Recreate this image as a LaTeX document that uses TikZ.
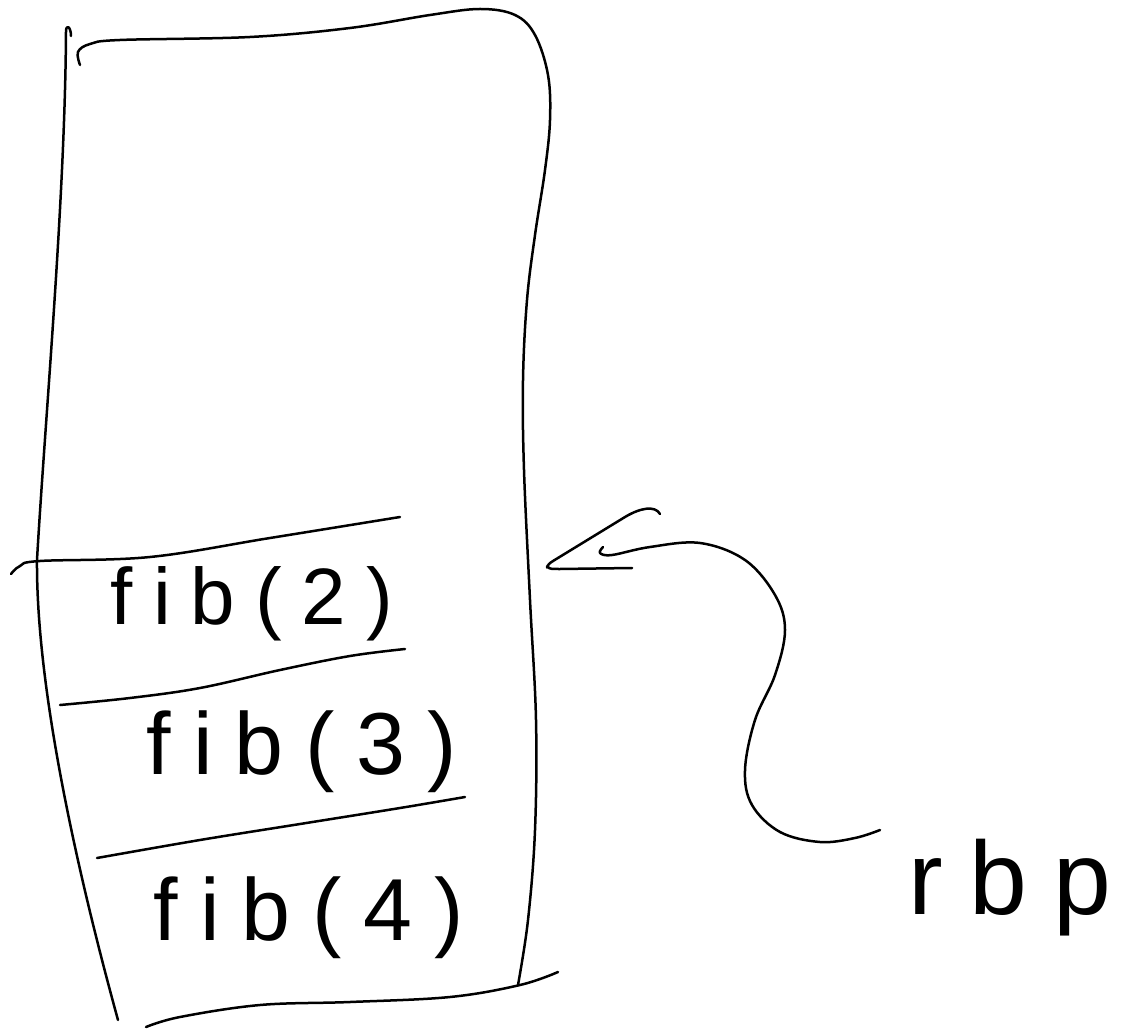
\documentclass[tikz,border=0pt]{standalone}
\usepackage{fontspec}
\newfontfamily\handfont[LetterSpace=25]{Liberation Sans}
\begin{document}
\begin{tikzpicture}[x=0.5pt,y=-0.5pt,
  pen/.style={line width=1.25pt, line cap=round, line join=round},
  lbl/.style={inner sep=0pt, font=\handfont\fontsize{44}{46}\selectfont},
  lblsmall/.style={inner sep=0pt, font=\handfont\fontsize{40}{42}\selectfont},
  lblbig/.style={inner sep=0pt, font=\handfont\fontsize{52}{54}\selectfont}]
\useasboundingbox (0,0) rectangle (1127,1036);

% left wall
\draw[pen] (71,36) .. controls (71,27) and (66,23) .. (66,32)
  .. controls (65,200) and (45,420) .. (37,560)
  .. controls (36,700) and (85,900) .. (118,1020);

% top and right wall
\draw[pen] plot[smooth, tension=0.6] coordinates {
  (80,65) (78,52) (90,44) (120,40) (250,37) (350,28) (430,15) (480,9)
  (515,15) (535,35) (548,75) (550,120) (545,170) (535,235) (527,300)
  (523,380) (524,470) (530,600) (536,720) (535,830) (528,920) (518,985)};

% frame separators
\draw[pen] plot[smooth, tension=0.6] coordinates {
  (11,574) (20,566) (40,561) (150,557) (270,538) (400,517)};
\draw[pen] plot[smooth, tension=0.6] coordinates {
  (60,705) (130,698) (200,688) (280,670) (350,656) (405,649)};
\draw[pen] plot[smooth, tension=0.6] coordinates {
  (97,858) (200,840) (300,824) (400,808) (465,797)};
\draw[pen] plot[smooth, tension=0.6] coordinates {
  (146,1027) (180,1017) (260,1005) (350,1002) (450,997) (520,985) (558,972)};

% frame labels
\node[lblsmall] (f2) at (252,604) {fib(2)};
\node[lbl] (f3) at (302,752) {fib(3)};
\node[lbl] (f4) at (309,918) {fib(4)};
\node[lblbig] (rbp) at (1010,888) {rbp};

% rbp pointer
\coordinate (tail) at (880,830);
\coordinate (tip) at (548,567);
\draw[pen] (660,514) .. controls (655,505) and (640,508) .. (625,517)
  -- (553,561) .. controls (545,566) and (547,569) .. (tip)
  .. controls (549,569) and (552,569) .. (560,569) -- (632,568);
\draw[pen] plot[smooth, tension=0.6] coordinates {
  (tail) (855,838) (820,842) (780,832) (752,805) (745,770) (755,720)
  (775,675) (785,630) (775,595) (745,560) (700,543) (650,547)
  (612,555) (600,553) (603,547)};
\end{tikzpicture}
\end{document}
